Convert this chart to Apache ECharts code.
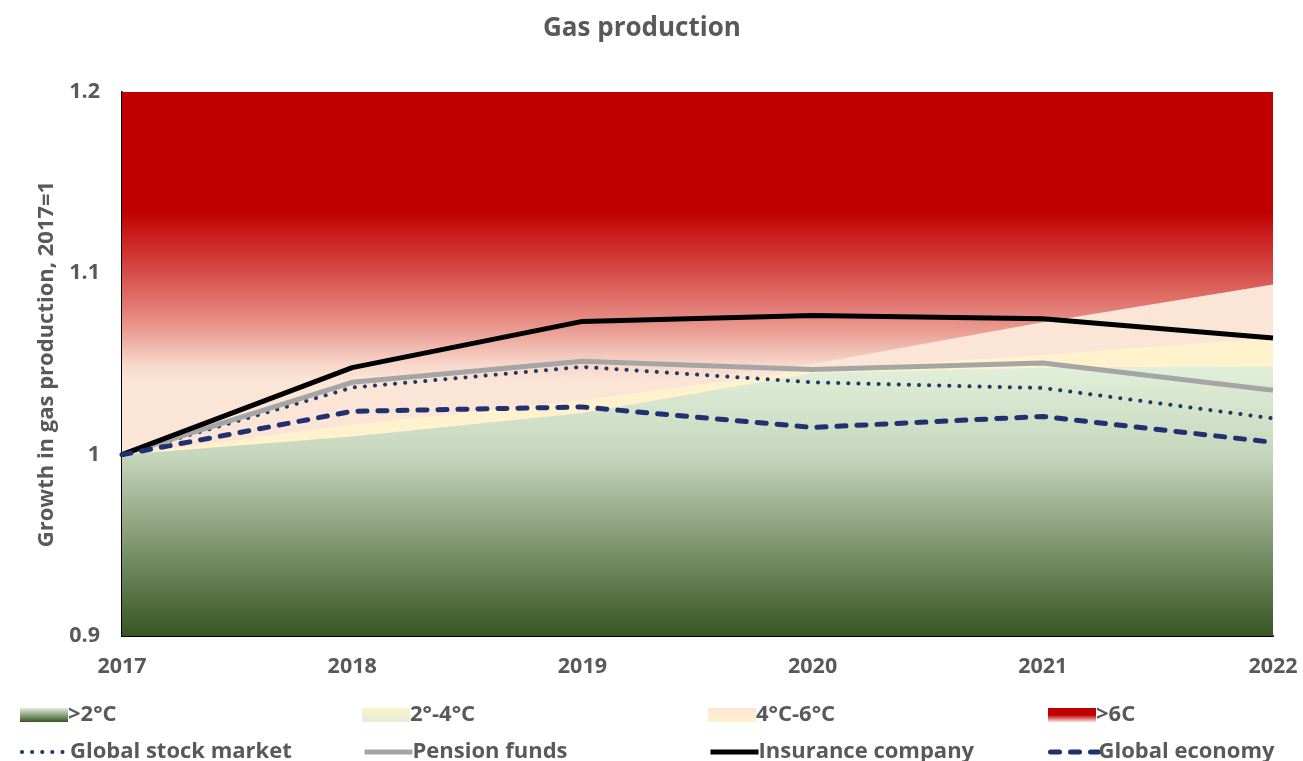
<!DOCTYPE html>
<html>
<head>
<meta charset="utf-8">
<script src="https://cdn.jsdelivr.net/npm/echarts@6/dist/echarts.min.js"></script>
<style>
  html, body { margin: 0; padding: 0; background: #fff; }
  #main { width: 1303px; height: 761px; }
</style>
</head>
<body>
<div id="main"></div>
<script>
var myChart = echarts.init(document.getElementById('main'));

const years = ['2017', '2018', '2019', '2020', '2021', '2022'];

// upper edges of the temperature bands
const band2C = [1.0, 1.010, 1.023, 1.045, 1.048, 1.0487];
const band2to4 = [1.0, 1.0165, 1.030, 1.047, 1.055, 1.0645];
const band4to6 = [1.0, 1.018, 1.035, 1.050, 1.073, 1.0938];
const bandTop = [1.2, 1.2, 1.2, 1.2, 1.2, 1.2];

// portfolio lines
const stockMarket = [1.0, 1.037, 1.0484, 1.0399, 1.0368, 1.020];
const pensionFunds = [1.0, 1.0399, 1.0515, 1.0469, 1.0506, 1.0355];
const insurance = [1.0, 1.048, 1.0735, 1.0767, 1.0749, 1.0643];
const globalEconomy = [1.0, 1.0239, 1.0263, 1.015, 1.0211, 1.0068];

const grey = '#595959';
const font = 'Open Sans';

function vgrad(stops) {
  return new echarts.graphic.LinearGradient(0, 0, 0, 1,
    stops.map(function (s) { return { offset: s[0], color: s[1] }; }));
}

const redFill = vgrad([[0, '#c00000'], [0.22, '#c00000'], [0.33, '#d64b47'], [0.43, '#e8958c'], [0.5, '#f8d6ca'], [0.53, '#fbe5d6'], [1, '#fbe5d6']]);
const greenFill = vgrad([[0, '#e2efda'], [0.33, '#c6d6bc'], [1, '#375623']]);
const peachFill = '#fbe5d6';
const yellowFill = '#fff2cc';

const dotted = { color: '#1f3864', width: 4, type: [0.1, 10], cap: 'round' };
const greyLine = { color: '#a5a5a5', width: 5 };
const blackLine = { color: '#000000', width: 5 };
const dashed = { color: '#203070', width: 5, type: [9, 11], cap: 'round' };

function area(name, data, color) {
  return {
    name: name,
    type: 'line',
    data: data,
    symbol: 'none',
    silent: true,
    lineStyle: { width: 0 },
    itemStyle: { color: color },
    areaStyle: { color: color, opacity: 1, origin: 'start' }
  };
}

function line(name, data, style) {
  return {
    name: name,
    type: 'line',
    data: data,
    symbol: 'none',
    silent: true,
    itemStyle: { color: style.color },
    lineStyle: style,
    z: 5
  };
}

// one legend per entry so each sits where Excel put it
function legendItem(left, top, item) {
  return {
    left: left,
    top: top,
    itemWidth: 48,
    itemHeight: 14,
    selectedMode: false,
    textStyle: { color: grey, fontFamily: font, fontWeight: 'bold', fontSize: 22, padding: [0, 0, 0, -5] },
    data: [item]
  };
}

function lineKey(name, style) {
  return { name: name, itemStyle: { opacity: 0 }, lineStyle: style };
}

var option = {
  animation: false,
  title: {
    text: 'Gas production',
    left: 538,
    top: 11,
    textStyle: { color: grey, fontFamily: font, fontWeight: 'bold', fontSize: 26 }
  },
  grid: { left: 122, right: 30, top: 92, bottom: 125, containLabel: false },
  legend: [
    legendItem(15, 699, { name: '>2°C', icon: 'rect', itemStyle: { color: vgrad([[0, '#e2efda'], [1, '#375623']]) } }),
    legendItem(357, 699, { name: '2°-4°C', icon: 'rect', itemStyle: { color: vgrad([[0, '#fff2cc'], [1, '#e2efda']]) } }),
    legendItem(703, 699, { name: '4°C-6°C', icon: 'rect', itemStyle: { color: vgrad([[0, '#fbe5d6'], [1, '#fff2cc']]) } }),
    legendItem(1043, 699, { name: '>6C', icon: 'rect', itemStyle: { color: vgrad([[0, '#c00000'], [0.5, '#c00000'], [1, '#fbe5d6']]) } }),
    legendItem(15, 736, lineKey('Global stock market', dotted)),
    legendItem(357, 736, lineKey('Pension funds', greyLine)),
    legendItem(703, 736, lineKey('Insurance company', blackLine)),
    legendItem(1043, 736, lineKey('Global economy', dashed))
  ],
  xAxis: {
    type: 'category',
    data: years,
    boundaryGap: false,
    axisTick: { show: false },
    axisLine: { lineStyle: { color: '#000', width: 2 } },
    axisLabel: { color: grey, fontFamily: font, fontWeight: 'bold', fontSize: 21.5, margin: 20 },
    splitLine: { show: false }
  },
  yAxis: {
    type: 'value',
    min: 0.9,
    max: 1.2,
    interval: 0.1,
    name: 'Growth in gas production, 2017=1',
    nameLocation: 'middle',
    nameGap: 64,
    nameTextStyle: { color: grey, fontFamily: font, fontWeight: 'bold', fontSize: 22 },
    axisLine: { show: true, lineStyle: { color: '#000', width: 2 } },
    axisTick: { show: false },
    axisLabel: { color: grey, fontFamily: font, fontWeight: 'bold', fontSize: 21.5, margin: 22 },
    splitLine: { show: false }
  },
  series: [
    area('>6C', bandTop, redFill),
    area('4°C-6°C', band4to6, peachFill),
    area('2°-4°C', band2to4, yellowFill),
    area('>2°C', band2C, greenFill),
    line('Global stock market', stockMarket, dotted),
    line('Pension funds', pensionFunds, greyLine),
    line('Insurance company', insurance, blackLine),
    line('Global economy', globalEconomy, dashed)
  ]
};

myChart.setOption(option);
</script>
</body>
</html>
